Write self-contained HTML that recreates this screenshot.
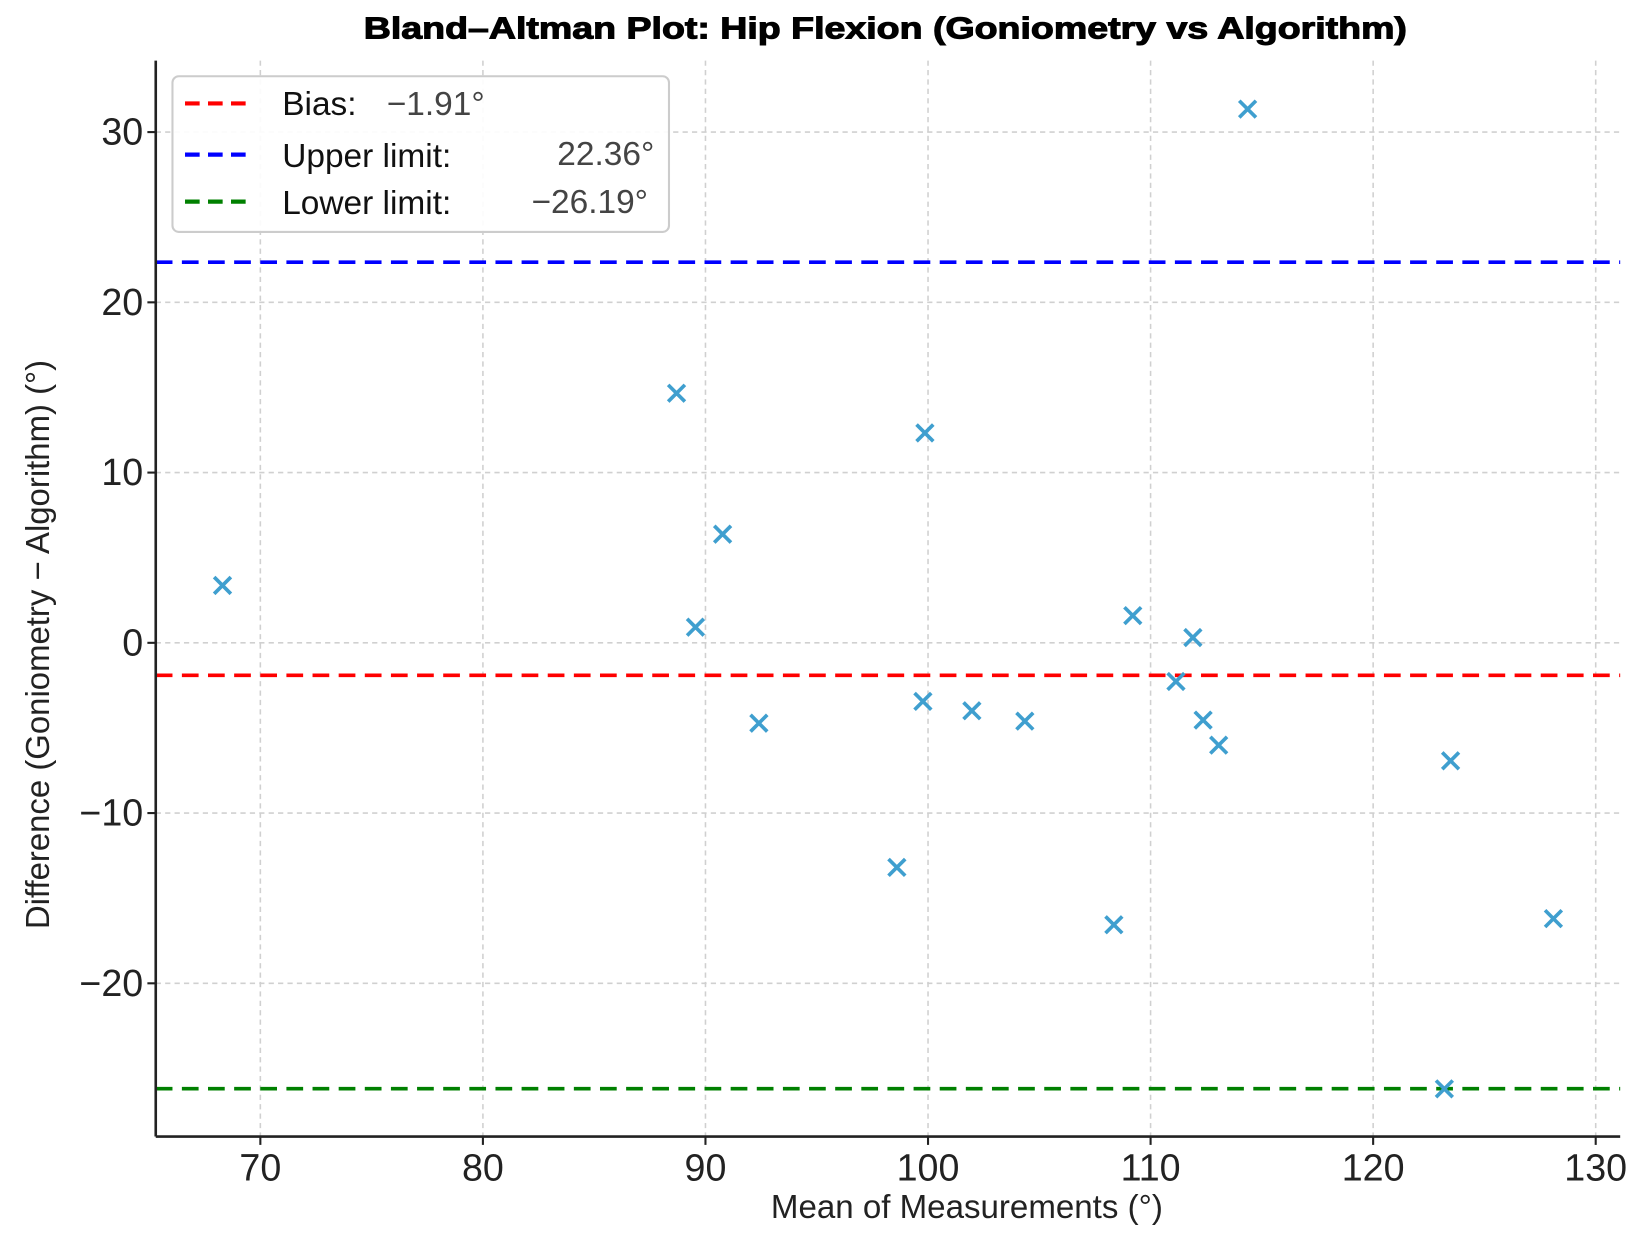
<!DOCTYPE html>
<html><head><meta charset="utf-8"><style>
html,body{margin:0;padding:0;background:#fff;}
svg{display:block;font-family:"Liberation Sans","DejaVu Sans",sans-serif;}
</style></head><body>
<svg id="chart" width="1639" height="1241" viewBox="0 0 1568 1188" preserveAspectRatio="none" xmlns="http://www.w3.org/2000/svg">
<rect x="0" y="0" width="1568" height="1188" fill="#fff"/>
<text x="847" y="37" text-anchor="middle" font-size="29" font-weight="bold" fill="#000" stroke="#000" stroke-width="1" textLength="998" lengthAdjust="spacingAndGlyphs">Bland–Altman Plot: Hip Flexion (Goniometry vs Algorithm)</text>
<g id="grid"></g>
<g id="refs"></g>
<g id="pts"></g>
<g id="axes"></g>
<text x="925" y="1166" text-anchor="middle" font-size="32" fill="#222" textLength="375" lengthAdjust="spacingAndGlyphs">Mean of Measurements (°)</text>
<text transform="translate(47,617) rotate(-90)" text-anchor="middle" font-size="32" fill="#222" textLength="545" lengthAdjust="spacingAndGlyphs">Difference (Goniometry − Algorithm) (°)</text>
<g>
<rect x="165" y="73" width="475" height="149" rx="6" fill="#fff" fill-opacity="0.9" stroke="#ccc" stroke-width="2"/>
<line x1="177" y1="99" x2="243" y2="99" stroke="#f00" stroke-width="4" stroke-dasharray="14,8"/>
<text x="270" y="110" font-size="32" fill="#111">Bias:</text>
<text x="370" y="110" font-size="32" fill="#444">−1.91°</text>
<line x1="177" y1="148" x2="243" y2="148" stroke="#00f" stroke-width="4" stroke-dasharray="14,8"/>
<text x="270" y="160" font-size="32" fill="#111">Upper limit:</text>
<text x="626" y="158" text-anchor="end" font-size="32" fill="#444">22.36°</text>
<line x1="177" y1="193" x2="243" y2="193" stroke="#008000" stroke-width="4" stroke-dasharray="14,8"/>
<text x="270" y="205" font-size="32" fill="#111">Lower limit:</text>
<text x="620" y="204" text-anchor="end" font-size="32" fill="#444">−26.19°</text>
</g>
</svg>
<script>
const meanVals = [68.3,88.7,89.55,90.77,92.4,98.6,99.86,99.77,101.97,104.35,108.35,109.2,111.14,111.9,112.36,113.06,114.36,123.48,123.2,128.1];
const diffVals = [3.37,14.66,0.92,6.38,-4.72,-13.19,12.33,-3.44,-3.99,-4.6,-16.56,1.6,-2.27,0.31,-4.54,-6.01,31.35,-6.93,-26.2,-16.2];
const xTicks = [70,80,90,100,110,120,130];
const yTicks = [30,20,10,0,-10,-20];
const bias = -1.91, upper = 22.36, lower = -26.19;
const L=149,R=1550,T=58,B=1088;
const xMin=65.3,xMax=131.1,yMin=-29.0,yMax=34.2;
const sx=v=>L+(v-xMin)/(xMax-xMin)*(R-L);
const sy=v=>B-(v-yMin)/(yMax-yMin)*(B-T);
const NS="http://www.w3.org/2000/svg";
function mk(tag,attrs,parent){const e=document.createElementNS(NS,tag);for(const k in attrs)e.setAttribute(k,attrs[k]);parent.appendChild(e);return e;}
const grid=document.getElementById('grid'),axes=document.getElementById('axes'),refs=document.getElementById('refs'),pts=document.getElementById('pts');
xTicks.forEach(t=>{
  const g=mk('line',{x1:sx(t),x2:sx(t),y1:T,y2:B,stroke:'#d0d0d0','stroke-width':1.5,'stroke-dasharray':'5,4'},grid);
  
  
  const tk=mk('line',{x1:sx(t),x2:sx(t),y1:B,y2:B+8,stroke:'#222','stroke-width':2},axes);
  
  
  const lb=mk('text',{x:sx(t),y:B+42,'text-anchor':'middle','font-size':36,fill:'#222'},axes);
  lb.textContent=t;
  
  
});
yTicks.forEach(t=>{
  const g=mk('line',{x1:L,x2:R,y1:sy(t),y2:sy(t),stroke:'#d0d0d0','stroke-width':1.5,'stroke-dasharray':'5,4'},grid);
  
  
  const tk=mk('line',{x1:L-8,x2:L,y1:sy(t),y2:sy(t),stroke:'#222','stroke-width':2},axes);
  
  
  const lb=mk('text',{x:L-12,y:sy(t)+12,'text-anchor':'end','font-size':36,fill:'#222'},axes);
  lb.textContent=t<0?'−'+Math.abs(t):t;
  
  
});
const ax1=mk('line',{x1:L,x2:L,y1:T,y2:B,stroke:'#222','stroke-width':2.5},axes);


const ax2=mk('line',{x1:L,x2:R,y1:B,y2:B,stroke:'#222','stroke-width':2.5},axes);


[[bias,'#f00','bias-line'],[upper,'#00f','upper-limit-line'],[lower,'#008000','lower-limit-line']].forEach(([v,c,n])=>{
  const l=mk('line',{x1:L,x2:R,y1:sy(v),y2:sy(v),stroke:c,'stroke-width':3.5,'stroke-dasharray':'16,9'},refs);
  
  
});
meanVals.forEach((m,i)=>{
  const x=sx(m),y=sy(diffVals[i]),s=8;
  const p=mk('path',{d:`M${x-s},${y-s}L${x+s},${y+s}M${x-s},${y+s}L${x+s},${y-s}`,stroke:'#3f9fcf','stroke-width':3.5,fill:'none'},pts);
  
  
});
</script>
</body></html>
